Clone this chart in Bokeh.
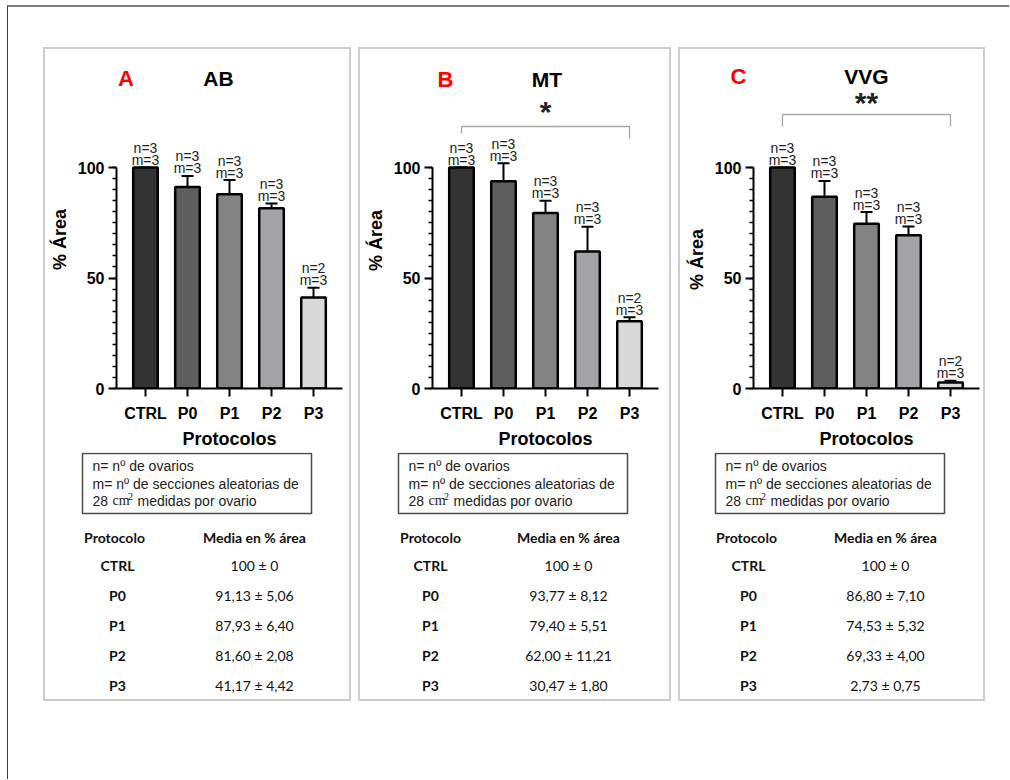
from bokeh.plotting import figure
from bokeh.models import Range1d, FixedTicker, SingleIntervalTicker, Whisker, TeeHead, ColumnDataSource
from bokeh.layouts import column, row
from bokeh.core.properties import value
from bokeh.embed import file_html
from bokeh.resources import INLINE

# ---------------- data ----------------
protocols = ["CTRL", "P0", "P1", "P2", "P3"]
panel_letters = ["A", "B", "C"]
stains = ["AB", "MT", "VVG"]
significance = ["", "*", "**"]

mean_ab = [100, 91.13, 87.93, 81.60, 41.17]
sd_ab = [0, 5.06, 6.40, 2.08, 4.42]
mean_mt = [100, 93.77, 79.40, 62.00, 30.47]
sd_mt = [0, 8.12, 5.51, 11.21, 1.80]
mean_vvg = [100, 86.80, 74.53, 69.33, 2.73]
sd_vvg = [0, 7.10, 5.32, 4.00, 0.75]

n_ovaries = [3, 3, 3, 3, 2]
m_sections = [3, 3, 3, 3, 3]

bar_colors = ["#333333", "#5e5e5e", "#838383", "#a3a3a9", "#d9d9d9"]

y_ticks_interval = 50
x_axis_title = "Protocolos"
y_axis_title = "% Área"
legend_lines = ["n= nº de ovarios", "m= nº de secciones aleatorias de"]
legend_last = ["28", "cm", "2", "medidas por ovario"]
table_headers = ["Protocolo", "Media en % área"]

# ---------------- layout constants ----------------
SANS = "Liberation Sans"
TABLE_FONT = "Lato"
PX_PER_UNIT = 2.21          # pixels per % unit on the y axis
FRAME_W = 226
X_LO, X_HI = -0.69, 4.69
PPX = FRAME_W / (X_HI - X_LO)
BOTTOM_B = 64
BOT_H = 247
INNER_H = 650
AXIS0_Y = 388 - 49          # y of value 0 inside a panel (panel inner top = 0)
STAR_OFFSET = 3


def fmt(v):
    return f"{v:.2f}".replace(".", ",")


def mean_sd_text(m, s):
    if s == 0:
        return f"{m:g} ± 0"
    return f"{fmt(m)} ± {fmt(s)}"


def plain(p):
    p.frame_align = False
    p.outline_line_color = None
    p.background_fill_color = "white"
    p.border_fill_color = "white"
    return p


def make_panel(k, means, sds, inner_w, left_b, lay):
    right_b = inner_w - left_b - FRAME_W
    top_h = lay["top_h"]
    xs = list(range(len(protocols)))
    upper = [m + s for m, s in zip(means, sds)]

    def to_cat(px):
        return X_LO + (px - left_b) / PPX

    # ---- title strip (x in category units, y in pixels downwards) ----
    top = plain(figure(width=inner_w, height=top_h,
                       x_range=Range1d(X_LO - left_b / PPX, X_HI + right_b / PPX),
                       y_range=Range1d(top_h, 0), x_axis_type=None, y_axis_type=None,
                       min_border=0, toolbar_location=None, output_backend="svg"))
    top.text(x=[to_cat(lay["lx"])], y=[lay["ly"]], text=[panel_letters[k]],
             text_font=value(SANS), text_font_style="bold", text_font_size="22px",
             text_color="#ff0000", text_align="center", text_baseline="middle")
    top.text(x=[to_cat(lay["tx"])], y=[lay["ty"]], text=[stains[k]],
             text_font=value(SANS), text_font_style="bold", text_font_size="21px",
             text_color="black", text_align="center", text_baseline="middle")

    # ---- bar chart ----
    frame_h = AXIS0_Y - top_h
    ytop = frame_h / PX_PER_UNIT
    p = plain(figure(width=inner_w, height=frame_h + BOTTOM_B,
                     x_range=Range1d(X_LO, X_HI), y_range=Range1d(0, ytop),
                     min_border_left=left_b, min_border_right=right_b,
                     min_border_top=0, min_border_bottom=BOTTOM_B,
                     toolbar_location=None, output_backend="svg"))
    p.xgrid.visible = False
    p.ygrid.visible = False

    src = ColumnDataSource(dict(
        x=xs, mean=means, upper=upper, color=bar_colors,
        nlab=[f"n={n}" for n in n_ovaries], mlab=[f"m={m}" for m in m_sections]))

    p.vbar(x="x", top="mean", bottom=0, width=0.585, fill_color="color",
           line_color="black", line_width=2.5, source=src)
    wh = Whisker(source=src, base="x", lower="mean", upper="upper", dimension="height",
                 line_color="black", line_width=2,
                 upper_head=TeeHead(size=12, line_color="black", line_width=2),
                 lower_head=None)
    p.add_layout(wh)

    p.text(x="x", y="upper", text="nlab", source=src, text_align="center",
           text_baseline="middle", y_offset=-19.5, text_font=value(SANS),
           text_font_size="14px", text_color="#222222")
    p.text(x="x", y="upper", text="mlab", source=src, text_align="center",
           text_baseline="middle", y_offset=-7.5, text_font=value(SANS),
           text_font_size="14px", text_color="#222222")

    if significance[k]:
        bx0, bx1 = xs[0], xs[-1]
        if lay["sig_in_strip"]:
            # bracket and stars drawn in the title strip (pixel y)
            top.line(x=[bx0, bx0, bx1, bx1],
                     y=[lay["b_left"], lay["b_y"], lay["b_y"], lay["b_right"]],
                     line_color="#a8a8a8", line_width=1.3)
            top.text(x=[xs[2]], y=[lay["s_y"]], text=[significance[k]], text_align="center",
                     text_baseline="middle", y_offset=STAR_OFFSET, text_font=value(SANS),
                     text_font_style="bold", text_font_size="30px", text_color="#222222")
        else:
            to_val = lambda py: (AXIS0_Y - py) / PX_PER_UNIT
            p.line(x=[bx0, bx0, bx1, bx1],
                   y=[to_val(lay["b_left"]), to_val(lay["b_y"]), to_val(lay["b_y"]),
                      to_val(lay["b_right"])],
                   line_color="#a8a8a8", line_width=1.3)
            p.text(x=[xs[2]], y=[to_val(lay["s_y"])], text=[significance[k]],
                   text_align="center", text_baseline="middle", y_offset=STAR_OFFSET,
                   text_font=value(SANS), text_font_style="bold", text_font_size="30px",
                   text_color="#222222")

    xa = p.xaxis[0]
    ya = p.yaxis[0]
    xa.ticker = FixedTicker(ticks=xs)
    xa.major_label_overrides = {i: name for i, name in zip(xs, protocols)}
    ya.ticker = SingleIntervalTicker(interval=y_ticks_interval, num_minor_ticks=10)
    ya.bounds = (0, 100)
    for ax in (xa, ya):
        ax.axis_line_color = "black"
        ax.axis_line_width = 2
        ax.major_tick_line_color = "black"
        ax.major_tick_line_width = 2
        ax.major_tick_out = 8
        ax.major_tick_in = 0
        ax.minor_tick_line_color = "black"
        ax.minor_tick_line_width = 1.5
        ax.minor_tick_out = 4
        ax.minor_tick_in = 0
        ax.major_label_text_font = SANS
        ax.major_label_text_font_style = "bold"
        ax.major_label_text_font_size = "16px"
        ax.major_label_text_color = "black"
        ax.axis_label_text_font = SANS
        ax.axis_label_text_font_style = "bold"
        ax.axis_label_text_font_size = "18px"
        ax.axis_label_text_color = "black"
    xa.major_label_standoff = 8
    xa.axis_label_standoff = 4
    ya.major_label_standoff = 4
    ya.axis_label_standoff = 5
    xa.axis_label = x_axis_title
    ya.axis_label = y_axis_title

    # ---- legend box + table ----
    bot = plain(figure(width=inner_w, height=BOT_H, x_range=Range1d(0, inner_w),
                       y_range=Range1d(BOT_H, 0), x_axis_type=None, y_axis_type=None,
                       min_border=0, toolbar_location=None, output_backend="svg"))
    bl = lay["box_l"]
    bot.quad(left=[bl], right=[bl + 229], top=[1], bottom=[61], fill_color=None,
             line_color="#4a4a4a", line_width=1.5)
    tx = bl + 10
    bot.text(x=[tx, tx], y=[13, 31], text=legend_lines, text_font=value(SANS),
             text_font_size="14px", text_color="#222222", text_align="left",
             text_baseline="middle")
    bot.text(x=[tx], y=[48], text=[legend_last[0]], text_font=value(SANS),
             text_font_size="14px", text_color="#222222", text_baseline="middle")
    bot.text(x=[tx + 20], y=[48], text=[legend_last[1]], text_font=value("Liberation Serif"),
             text_font_size="14px", text_color="#222222", text_baseline="middle")
    bot.text(x=[tx + 35.5], y=[44], text=[legend_last[2]], text_font=value("Liberation Serif"),
             text_font_size="10px", text_color="#222222", text_baseline="middle")
    bot.text(x=[tx + 45], y=[48], text=[legend_last[3]], text_font=value(SANS),
             text_font_size="14px", text_color="#222222", text_baseline="middle")

    bot.text(x=[lay["hx"], lay["vx"]], y=[85, 85], text=table_headers,
             text_font=value(TABLE_FONT), text_font_style="bold", text_font_size="14px",
             text_color="#111111", text_align="center", text_baseline="middle")
    rows_y = [113 + 30 * i for i in range(len(protocols))]
    bot.text(x=[lay["rx"]] * len(protocols), y=rows_y, text=protocols,
             text_font=value(TABLE_FONT), text_font_style="bold", text_font_size="14px",
             text_color="#111111", text_align="center", text_baseline="middle")
    bot.text(x=[lay["vx"]] * len(protocols), y=rows_y,
             text=[mean_sd_text(m, s) for m, s in zip(means, sds)],
             text_font=value(TABLE_FONT), text_font_size="14px",
             text_color="#111111", text_align="center", text_baseline="middle")

    return column(top, p, bot, spacing=0, styles={"border": "2px solid #cdcdcd"})


# pixel positions below are relative to each panel's inner top-left corner
layouts = [
    dict(top_h=41, lx=80.5, ly=28.5, tx=173, ty=28.5, box_l=37, hx=69, rx=72, vx=209,
         sig_in_strip=False),
    dict(top_h=43, lx=85, ly=29.5, tx=186.5, ty=29.5, box_l=38, hx=70, rx=70, vx=208,
         sig_in_strip=False, b_y=126 - 49, b_left=133 - 49, b_right=138 - 49, s_y=108 - 49),
    dict(top_h=81, lx=58, ly=27, tx=186, ty=26.5, box_l=35, hx=66, rx=68, vx=205,
         sig_in_strip=True, b_y=114 - 49, b_left=126 - 49, b_right=126 - 49, s_y=99 - 49),
]

pa = make_panel(0, mean_ab, sd_ab, 304, 71, layouts[0])
pb = make_panel(1, mean_mt, sd_mt, 309, 72, layouts[1])
pc = make_panel(2, mean_vvg, sd_vvg, 303, 73, layouts[2])

r = row(pa, pb, pc, spacing=7, margin=(40, 0, 0, 35))
root = column(r, width=1002, height=774, margin=(5, 0, 0, 7),
              styles={"border-top": "2px solid #7b7b7b", "border-left": "1px solid #3c3c3c",
                      "background": "white"})

open("out.html", "w").write(file_html(root, INLINE))
